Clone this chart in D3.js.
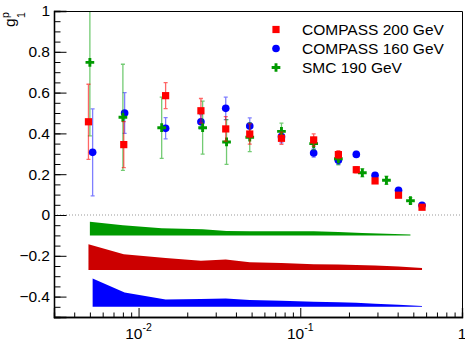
<!DOCTYPE html>
<meta charset="utf-8">
<title>g1p</title>
<style>
body { margin: 0; background: #fff; }
svg text { font-family: "Liberation Sans", Arial, sans-serif; fill: #000; }
</style>
<body>
<svg width="465" height="342"></svg>
<script src="https://cdn.jsdelivr.net/npm/d3@7"></script>
<script>
// COMPASS 200 GeV
var x200 = [0.0049, 0.0081, 0.0147, 0.0243, 0.0346, 0.0487, 0.0765, 0.121, 0.172, 0.222, 0.290, 0.405, 0.566];
var g200 = [0.457, 0.345, 0.585, 0.511, 0.422, 0.397, 0.376, 0.368, 0.296, 0.222, 0.167, 0.097, 0.038];
var e200 = [0.184, 0.113, 0.064, 0.060, 0.060, 0.050, 0.030, 0.030, 0.020, 0.015, 0.012, 0.010, 0.010];
var s200 = [0.127, 0.078, 0.059, 0.046, 0.052, 0.038, 0.035, 0.029, 0.027, 0.025, 0.022, 0.017, 0.010];
// COMPASS 160 GeV
var x160 = [0.0052, 0.0082, 0.0147, 0.0243, 0.0346, 0.0487, 0.0765, 0.121, 0.172, 0.222, 0.290, 0.405, 0.566];
var g160 = [0.307, 0.500, 0.425, 0.457, 0.523, 0.436, 0.384, 0.304, 0.268, 0.297, 0.195, 0.121, 0.048];
var e160 = [0.213, 0.100, 0.052, 0.035, 0.055, 0.040, 0.030, 0.020, 0.020, 0.015, 0.010, 0.010, 0.008];
var s160 = [0.139, 0.070, 0.036, 0.038, 0.041, 0.033, 0.030, 0.025, 0.022, 0.020, 0.015, 0.010, 0.004];
// SMC 190 GeV
var xSmc = [0.0050, 0.0080, 0.0139, 0.0249, 0.0350, 0.0487, 0.0765, 0.121, 0.172, 0.242, 0.341, 0.480];
var gSmc = [0.748, 0.479, 0.428, 0.428, 0.358, 0.381, 0.410, 0.350, 0.276, 0.207, 0.170, 0.070];
var eSmc = [0.360, 0.260, 0.150, 0.130, 0.110, 0.070, 0.040, 0.030, 0.030, 0.020, 0.020, 0.015];
var sSmc = [0.067, 0.050, 0.035, 0.030, 0.022, 0.020, 0.020, 0.020, 0.017, 0.012, 0.008, 0.004];

var yTicks = [-0.4, -0.2, 0, 0.2, 0.4, 0.6, 0.8, 1];
var yTickLabels = ["\u22120.4", "\u22120.2", "0", "0.2", "0.4", "0.6", "0.8", "1"];
var xTicks = [0.01, 0.1, 1];
var xTickLabels = [["10", "-2"], ["10", "-1"], ["1", ""]];

var series = [
	{name: "COMPASS 160 GeV", x: x160, g: g160, e: e160, s: s160, base: -0.45, sym: d3.symbolCircle, size: 46,
	 color: "#0000ff", bar: "rgba(0,0,255,0.5)", band: "#0000ff"},
	{name: "SMC 190 GeV", x: xSmc, g: gSmc, e: eSmc, s: sSmc, base: -0.1, sym: d3.symbolCross, size: 42,
	 color: "#009a00", bar: "rgba(0,160,0,0.55)", band: "#009a00"},
	{name: "COMPASS 200 GeV", x: x200, g: g200, e: e200, s: s200, base: -0.27, sym: d3.symbolSquare, size: 52,
	 color: "#ff0000", bar: "rgba(255,0,0,0.6)", band: "#cc0000"}
];
var legendOrder = [2, 0, 1];

// frame edges (not "top": that name is taken by window.top)
var mLeft = 54, mRight = 462, mTop = 11, mBottom = 317;
var x = d3.scaleLog().domain([0.003, 1]).range([mLeft, mRight]);
var y = d3.scaleLinear().domain([-0.5, 1]).range([mBottom, mTop]);

var svg = d3.select("svg");
svg.append("defs").append("clipPath").attr("id", "plot")
	.append("rect").attr("x", mLeft).attr("y", mTop).attr("width", mRight - mLeft).attr("height", mBottom - mTop);

// systematic bands
series.forEach(function(s) {
	var pts = s.x.map(function(v, i) { return {x: v, s: s.s[i]}; });
	var area = d3.area()
		.x(function(d) { return x(d.x); })
		.y0(y(s.base))
		.y1(function(d) { return y(s.base + d.s); });
	svg.append("path").datum(pts).attr("d", area).attr("fill", s.band);
});

// zero line
svg.append("line")
	.attr("x1", mLeft).attr("x2", mRight).attr("y1", y(0)).attr("y2", y(0))
	.attr("stroke", "#999").attr("stroke-dasharray", "1,2");

// points with stat errors
var plot = svg.append("g").attr("clip-path", "url(#plot)");
series.forEach(function(s) {
	var pts = s.x.map(function(v, i) { return {x: v, g: s.g[i], e: s.e[i]}; });
	var g = plot.append("g");
	g.selectAll(".bar").data(pts).enter().append("path")
		.attr("d", function(d) {
			var cx = x(d.x), y1 = y(d.g + d.e), y2 = y(d.g - d.e);
			return "M" + cx + "," + y1 + "V" + y2 +
				"M" + (cx - 2) + "," + y1 + "H" + (cx + 2) +
				"M" + (cx - 2) + "," + y2 + "H" + (cx + 2);
		})
		.attr("stroke", s.bar).attr("stroke-width", 1.3).attr("fill", "none");
	g.selectAll(".mk").data(pts).enter().append("path")
		.attr("transform", function(d) { return "translate(" + x(d.x) + "," + y(d.g) + ")"; })
		.attr("d", d3.symbol(s.sym, s.size))
		.attr("fill", s.color);
});

// axes
var yAxis = svg.append("g").attr("transform", "translate(" + mLeft + ",0)");
yAxis.call(d3.axisLeft(y).tickValues(d3.range(-0.5, 1.001, 0.05)).tickSize(-6.5).tickFormat(""));
yAxis.append("g").call(d3.axisLeft(y).tickValues(yTicks).tickSize(-12.5).tickPadding(4)
	.tickFormat(function(d, i) { return yTickLabels[i]; }));
yAxis.selectAll("text").attr("font-size", "15.5px").attr("font-family", null).attr("fill", "#000");
yAxis.selectAll(".domain").attr("stroke-width", 1.3);

var minors = [];
[0.001, 0.01, 0.1].forEach(function(dec) {
	for (var k = 2; k <= 9; k++) { if (dec * k > 0.003 && dec * k < 1) minors.push(dec * k); }
});
var xAxis = svg.append("g").attr("transform", "translate(0," + mBottom + ")");
xAxis.call(d3.axisBottom(x).tickValues(minors).tickSize(-4.5).tickFormat(""));
xAxis.append("g").call(d3.axisBottom(x).tickValues(xTicks).tickSize(-9).tickFormat(""));
xAxis.selectAll(".domain").attr("stroke-width", 1.3);

xTicks.forEach(function(t, i) {
	var txt = svg.append("text").attr("x", x(t)).attr("y", 339)
		.attr("text-anchor", "middle").attr("font-size", "15.5px");
	txt.append("tspan").text(xTickLabels[i][0]);
	if (xTickLabels[i][1]) txt.append("tspan").attr("dy", -8).attr("font-size", "10.5px").text(xTickLabels[i][1]);
});
svg.append("text").attr("x", mRight).attr("y", 350).attr("text-anchor", "end")
	.attr("font-size", "15.5px").text("x");

// frame
svg.append("path")
	.attr("d", "M" + mLeft + "," + (mTop + 0.5) + "H" + (mRight + 0.5) + "V" + mBottom)
	.attr("stroke", "#000").attr("fill", "none");

// y title g_1^p
var yt = svg.append("g").attr("transform", "translate(15,27) rotate(-90)");
yt.append("text").attr("font-size", "15.5px").text("g");
yt.append("text").attr("x", 9).attr("y", -6).attr("font-size", "10.5px").text("p");
yt.append("text").attr("x", 9).attr("y", 10).attr("font-size", "10.5px").text("1");

// legend
legendOrder.forEach(function(si, i) {
	var s = series[si], ly = 29.5 + i * 19;
	svg.append("path").attr("transform", "translate(276," + ly + ")")
		.attr("d", d3.symbol(s.sym, s.size)).attr("fill", s.color);
	svg.append("text").attr("x", 302).attr("y", ly + 5.5).attr("font-size", "15.5px").text(s.name);
});
</script>
</body>
